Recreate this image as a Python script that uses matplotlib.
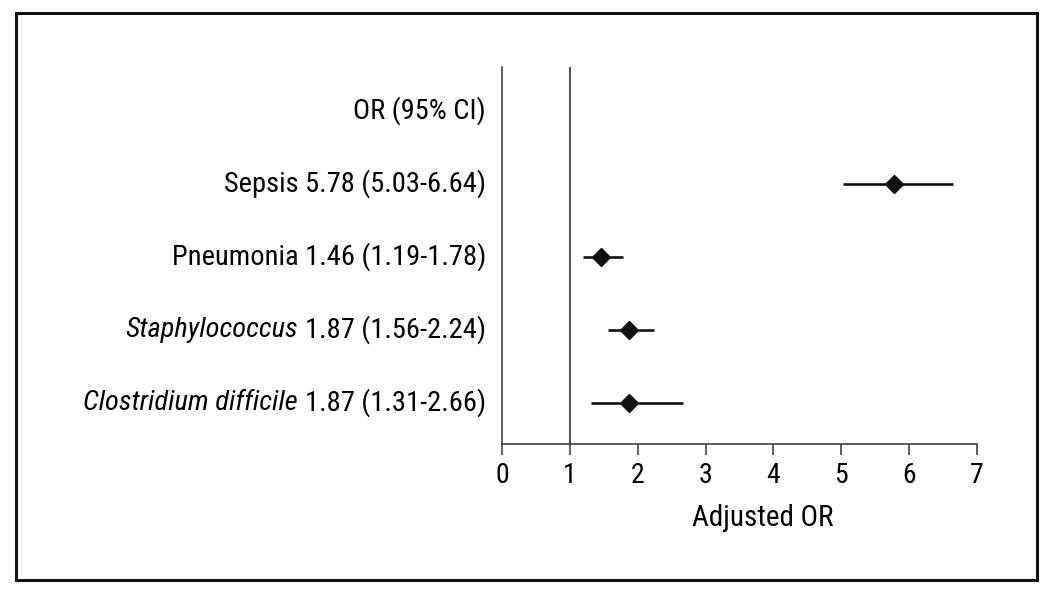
import matplotlib
matplotlib.use("Agg")
import matplotlib.pyplot as plt
from matplotlib.patches import Rectangle
from matplotlib.transforms import offset_copy, blended_transform_factory

plt.rcParams['font.family'] = ['Roboto Condensed', 'Liberation Sans', 'DejaVu Sans']

# Data
header = "OR (95% CI)"
italic_names = ["", "", "Staphylococcus", "Clostridium difficile"]
plain_names = ["Sepsis 5.78 (5.03-6.64)", "Pneumonia 1.46 (1.19-1.78)",
               "1.87 (1.56-2.24)", "1.87 (1.31-2.66)"]
odds_ratio = [5.78, 1.46, 1.87, 1.87]
ci_low = [5.03, 1.19, 1.56, 1.31]
ci_high = [6.64, 1.78, 2.24, 2.66]
x_ticks = [0, 1, 2, 3, 4, 5, 6, 7]

W, H = 1050, 598
fig = plt.figure(figsize=(W / 100, H / 100), dpi=100)
fig.patch.set_facecolor("white")

# Border
fig.patches.append(Rectangle((16 / W, 1 - 580 / H), (1037 - 16) / W, (580 - 13) / H,
                             transform=fig.transFigure, fill=False, lw=2.2,
                             edgecolor="#111111"))

ax = fig.add_axes([502 / W, 1 - 444 / H, (977 - 502) / W, (444 - 67) / H])
ax.set_xlim(0, 7)
ax.set_ylim(0.44, 5.6)

ypos = [4, 3, 2, 1]
for y, o, lo, hi in zip(ypos, odds_ratio, ci_low, ci_high):
    ax.plot([lo, hi], [y, y], color="#111111", lw=1.9, solid_capstyle="butt", zorder=2)
    ax.plot([o], [y], marker="D", ms=9, color="#111111", zorder=3)

ax.axvline(1, color="#222222", lw=1.1, zorder=1)

for s in ["top", "right"]:
    ax.spines[s].set_visible(False)
for s in ["left", "bottom"]:
    ax.spines[s].set_linewidth(1.1)
    ax.spines[s].set_color("#333333")

fs = 20.5
ax.set_yticks([])
ax.set_xticks(x_ticks)
ax.set_xticklabels([str(t) for t in x_ticks], fontsize=20)
ax.tick_params(axis="x", direction="out", length=8, width=1.1, color="#333333", pad=5)

ax.text(3.84, -0.195, "Adjusted OR", transform=blended_transform_factory(ax.transData, ax.transAxes),
        ha="center", va="center", fontsize=21)

# Row labels
trans = offset_copy(blended_transform_factory(ax.transAxes, ax.transData),
                    fig=fig, x=-16, y=0, units="dots")
ax.text(0, 5, header, transform=trans, ha="right", va="center", fontsize=fs, clip_on=False)
fig.canvas.draw()
renderer = fig.canvas.get_renderer()
for y, it, pl in zip(ypos, italic_names, plain_names):
    t = ax.text(0, y, pl, transform=trans, ha="right", va="center", fontsize=fs, clip_on=False)
    if it:
        bb = t.get_window_extent(renderer=renderer)
        w = bb.width
        trans2 = offset_copy(blended_transform_factory(ax.transAxes, ax.transData),
                             fig=fig, x=-16 - w - 7, y=0, units="dots")
        ax.text(0, y, it, transform=trans2, ha="right", va="center", fontsize=fs,
                style="italic", clip_on=False)

fig.savefig("out.png", dpi=100, facecolor="white")
